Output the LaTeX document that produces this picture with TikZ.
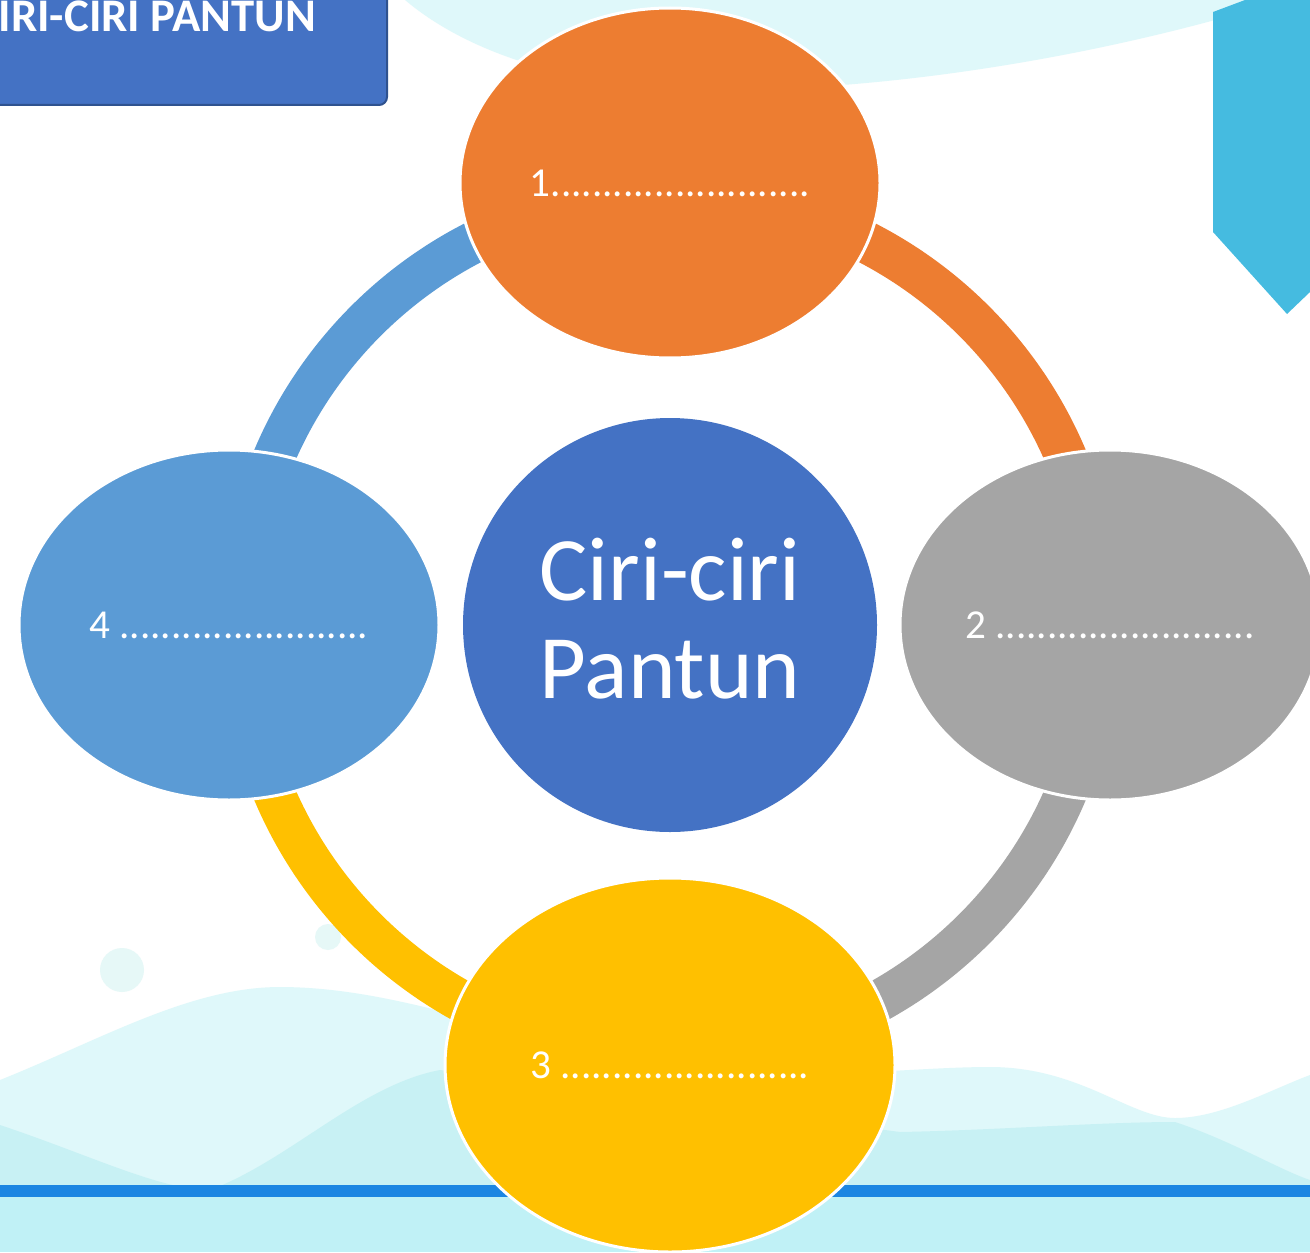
\documentclass[tikz,border=0pt]{standalone}
\usepackage{fontspec}
\setmainfont{Carlito}
\usetikzlibrary{shapes.geometric}
\definecolor{orangeC}{HTML}{ED7D31}
\definecolor{grayC}{HTML}{A5A5A5}
\definecolor{yellowC}{HTML}{FFC000}
\definecolor{blueC}{HTML}{5B9BD5}
\definecolor{darkblueC}{HTML}{4472C4}
\definecolor{boxedge}{HTML}{2F528F}
\definecolor{waveA}{HTML}{DFF8FA}
\definecolor{waveB}{HTML}{C8F1F4}
\definecolor{bandC}{HTML}{C0F1F6}
\definecolor{lineC}{HTML}{1C86E2}
\definecolor{ribbonC}{HTML}{45BBE0}
\definecolor{dotC}{HTML}{E6F8F7}

\begin{document}
\begin{tikzpicture}[x=0.1mm, y=-0.1mm,
  bubble/.style={ellipse, draw=white, line width=0.3mm, text=white, inner sep=0pt,
    minimum width=42mm, minimum height=35mm, font=\fontsize{11.7}{13}\selectfont},
  hub/.style={circle, fill=darkblueC, text=white, inner sep=0pt, minimum size=41.4mm,
    align=center, font=\fontsize{25.8}{27.9}\selectfont},
  ring/.style={line width=4.2mm}]
\useasboundingbox (0,0) rectangle (1310,1252);
\clip (0,0) rectangle (1310,1252);
% background
\fill[white] (0,0) rectangle (1310,1252);
\fill[waveA] (405,0) .. controls (470,55) and (580,90) .. (720,90) .. controls (880,90) and (1060,62) .. (1215,20) -- (1310,0) -- cycle;
\fill[waveA] (0,1080) .. controls (100,1040) and (190,987) .. (280,987) .. controls (400,987) and (520,1040) .. (640,1060)
  .. controls (800,1085) and (900,1067) .. (990,1067) .. controls (1080,1067) and (1130,1118) .. (1175,1118)
  .. controls (1220,1118) and (1270,1090) .. (1310,1075) -- (1310,1190) -- (0,1190) -- cycle;
\fill[waveB] (0,1125) .. controls (90,1155) and (160,1190) .. (210,1190) .. controls (290,1160) and (360,1085) .. (440,1070)
  -- (900,1132) .. controls (1000,1130) and (1100,1122) .. (1175,1122) .. controls (1230,1140) and (1280,1170) .. (1310,1180)
  -- (1310,1190) -- (0,1190) -- cycle;
\fill[dotC] (122,970) circle[radius=22];
\fill[dotC] (328,937) circle[radius=13];
\fill[bandC] (0,1197) rectangle (1310,1252);
\fill[lineC] (0,1185) rectangle (1310,1197);
\fill[ribbonC] (1213,12) -- (1213,232) -- (1287,314) -- (1310,292) -- (1310,0) -- (1245,0) -- cycle;
% title
\draw[fill=darkblueC, draw=boxedge, line width=0.2mm, rounded corners=0.8mm] (-30,-30) rectangle (387,105);
\node[anchor=base west, inner sep=0pt, text=white, font=\bfseries\fontsize{13.3}{15}\selectfont] (title) at (-2,32) {IRI-CIRI PANTUN};
% ring
\coordinate (c) at (670,625);
\draw[ring, orangeC] (c) ++(-90:430) arc[start angle=-90, end angle=0, radius=430];
\draw[ring, grayC] (c) ++(0:430) arc[start angle=0, end angle=90, radius=430];
\draw[ring, yellowC] (c) ++(90:430) arc[start angle=90, end angle=180, radius=430];
\draw[ring, blueC] (c) ++(180:430) arc[start angle=180, end angle=270, radius=430];
% nodes
\node[bubble, fill=orangeC] (n1) at (670,183) {1.........................};
\node[bubble, fill=grayC] (n2) at (1110,625) {2 .........................};
\node[bubble, fill=yellowC, minimum width=45mm, minimum height=37.4mm] (n3) at (670,1065) {3 ........................};
\node[bubble, fill=blueC] (n4) at (229,625) {4 ........................};
\node[hub] (pantun) at (c) {Ciri-ciri\\Pantun\rule[-1.4mm]{0pt}{0pt}};
\end{tikzpicture}
\end{document}
